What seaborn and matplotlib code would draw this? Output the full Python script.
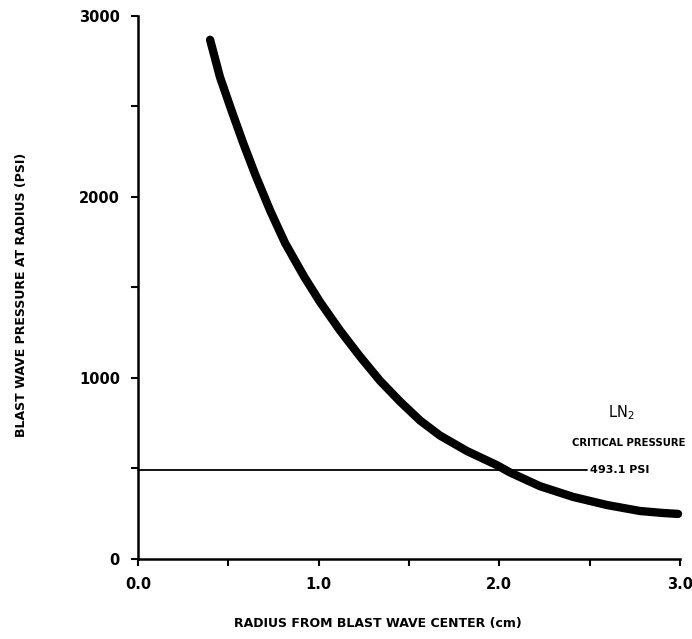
import matplotlib
matplotlib.use("Agg")
import matplotlib.pyplot as plt
import seaborn as sns
import pandas as pd

# Blast wave pressure vs. radius
radius_cm = [0.399, 0.454, 0.520, 0.581, 0.648, 0.731, 0.814, 0.919, 1.007,
             1.118, 1.229, 1.339, 1.450, 1.561, 1.671, 1.821, 1.987, 2.059,
             2.225, 2.408, 2.596, 2.779, 2.906, 2.989]
pressure_psi = [2867, 2660, 2470, 2300, 2125, 1925, 1745, 1560, 1420,
                1262, 1118, 985, 870, 765, 682, 596, 518, 478,
                402, 343, 298, 265, 254, 249]

critical_pressure = 493.1
critical_line_end = 2.485

x_ticks = [0.0, 1.0, 2.0, 3.0]
x_tick_labels = ["0.0", "1.0", "2.0", "3.0"]
x_minor = [0.5, 1.5, 2.5]
y_ticks = [0, 1000, 2000, 3000]
y_tick_labels = ["0", "1000", "2000", "3000"]
y_minor = [500, 1500, 2500]

sns.set_style("ticks", {"text.color": "black", "axes.labelcolor": "black",
                        "xtick.color": "black", "ytick.color": "black",
                        "axes.edgecolor": "black"})
plt.rcParams["font.family"] = ["DejaVu Sans"]

df = pd.DataFrame({"radius": radius_cm, "pressure": pressure_psi})

fig = plt.figure(figsize=(6.92, 6.39), dpi=100)
ax = fig.add_axes([138 / 692, 1 - 559 / 639, (680 - 138) / 692, (559 - 15.7) / 639])

sns.lineplot(data=df, x="radius", y="pressure", ax=ax, color="black",
             linewidth=6.0, solid_capstyle="round", solid_joinstyle="round",
             clip_on=False, sort=False)

ax.plot([0, critical_line_end], [critical_pressure, critical_pressure],
        color="black", linewidth=1.3, clip_on=False)

ax.set_xlim(0, 3.0)
ax.set_ylim(0, 3000)
sns.despine(ax=ax)
for side in ("left", "bottom"):
    ax.spines[side].set_linewidth(1.8)
    ax.spines[side].set_color("black")

ax.set_xticks(x_ticks)
ax.set_xticklabels(x_tick_labels)
ax.set_xticks(x_minor, minor=True)
ax.set_yticks(y_ticks)
ax.set_yticklabels(y_tick_labels)
ax.set_yticks(y_minor, minor=True)
ax.tick_params(axis="both", which="both", direction="out", length=5,
               width=1.5, color="black", labelcolor="black",
               labelsize=10.5, pad=8)
for lbl in ax.get_xticklabels() + ax.get_yticklabels():
    lbl.set_fontweight("bold")

ax.set_xlabel("")
ax.set_ylabel("")

ax.text(critical_line_end + 0.015, critical_pressure, "493.1 PSI",
        fontsize=8, fontweight="bold", ha="left", va="center", color="black")
ax.text(3.033, 641, "CRITICAL PRESSURE", fontsize=7.3, fontweight="bold",
        ha="right", va="center", color="black")
ax.text(2.673, 807, "LN$_2$", fontsize=10.5, ha="center", va="center",
        color="black")

fig.text(378 / 692, 1 - 623 / 639, "RADIUS FROM BLAST WAVE CENTER (cm)",
         fontsize=9, fontweight="bold", ha="center", va="center", color="black")
fig.text(22 / 692, 1 - 295 / 639, "BLAST WAVE PRESSURE AT RADIUS (PSI)",
         fontsize=9, fontweight="bold", ha="center", va="center", rotation=90,
         color="black")

fig.savefig("out.png", dpi=100, facecolor="white")
